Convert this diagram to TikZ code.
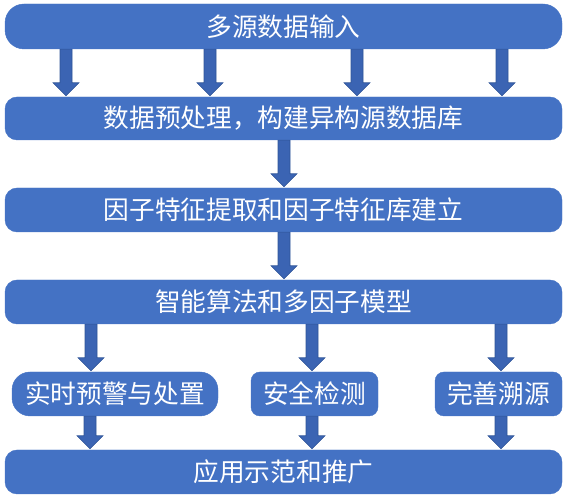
\documentclass[tikz,border=0pt]{standalone}
\usepackage{fontspec}
\newfontfamily\cjk{Noto Sans CJK SC}
\usetikzlibrary{calc}
\definecolor{boxblue}{HTML}{4472C4}
\definecolor{arrowblue}{HTML}{3B64B3}
\definecolor{arrowedge}{HTML}{2F5597}

% block arrow: #1 = x position, #2 = source node, #3 = target node
\newcommand{\fatarrow}[3]{%
	\draw[fatarrow] let \p1=(#2.south), \p2=(#3.north) in
		({#1pt-6pt},\y1) -- ({#1pt+6pt},\y1) -- ({#1pt+6pt},{\y2+14pt})
		-- ({#1pt+13pt},{\y2+14pt}) -- ({#1pt},{\y2+1pt}) -- ({#1pt-13pt},{\y2+14pt})
		-- ({#1pt-6pt},{\y2+14pt}) -- cycle;}

\begin{document}
\begin{tikzpicture}[x=1pt,y=1pt,
	bar/.style={fill=boxblue,draw=boxblue,text=white,inner sep=0pt,
		minimum width=557pt,minimum height=44pt,rounded corners=12pt,
		font=\cjk\fontsize{25.7}{30}\selectfont},
	small/.style={bar,minimum width=127pt,rounded corners=9pt},
	fatarrow/.style={fill=arrowblue,draw=arrowedge,line width=0.6pt}]
	\useasboundingbox (0,0) rectangle (568,500);
	\draw (283.5,473.5) node (src) [bar,minimum height=45pt,rounded corners=19pt] {多源数据输入};
	\draw (283.5,381.5) node (prep) [bar,minimum height=43pt] {数据预处理，构建异构源数据库};
	\draw (283.5,290) node (feat) [bar] {因子特征提取和因子特征库建立};
	\draw (283.5,198) node (model) [bar] {智能算法和多因子模型};
	\draw (115,106) node (warn) [small,minimum width=206pt,rounded corners=18pt] {实时预警与处置};
	\draw (314.5,106) node (detect) [small] {安全检测};
	\draw (498.5,106) node (trace) [small] {完善溯源};
	\draw (283.5,28) node (apply) [bar] {应用示范和推广};

	\foreach \ax in {66,210,357,502} {\fatarrow{\ax}{src}{prep}}
	\fatarrow{284}{prep}{feat}
	\fatarrow{284}{feat}{model}
	\fatarrow{91}{model}{warn}
	\fatarrow{312}{model}{detect}
	\fatarrow{501}{model}{trace}
	\fatarrow{90}{warn}{apply}
	\fatarrow{312}{detect}{apply}
	\fatarrow{501}{trace}{apply}
\end{tikzpicture}
\end{document}
